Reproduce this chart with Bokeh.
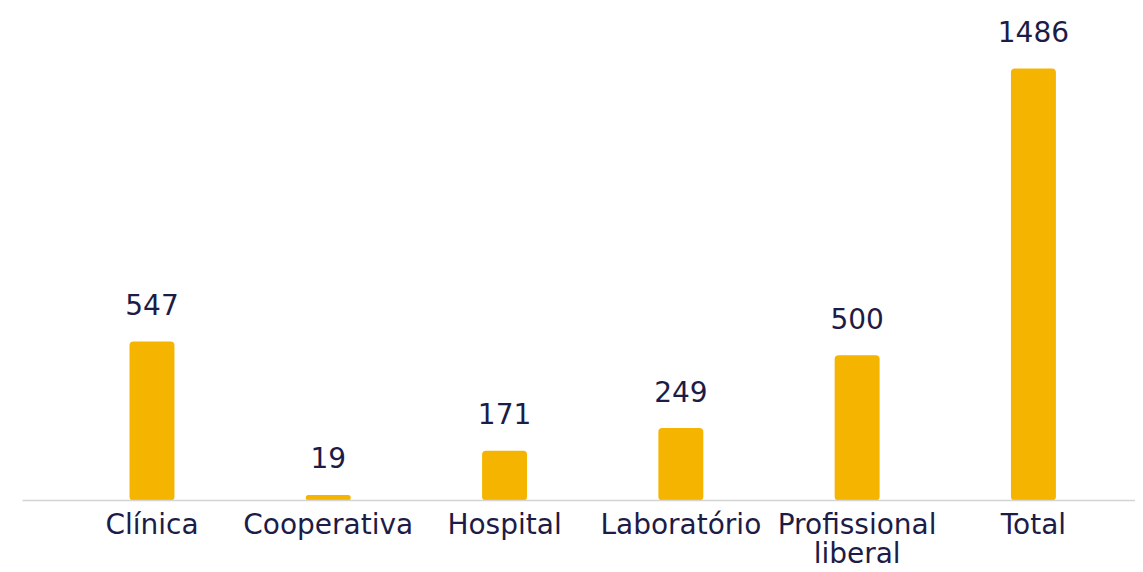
from bokeh.plotting import figure
from bokeh.models import ColumnDataSource, FixedTicker, Range1d
from bokeh.core.properties import value
from bokeh.embed import file_html
from bokeh.resources import INLINE

categories = ["Clínica", "Cooperativa", "Hospital", "Laboratório", "Profissional\nliberal", "Total"]
values = [547, 19, 171, 249, 500, 1486]
labels = [str(v) for v in values]

positions = list(range(len(categories)))
BAR = "#F5B400"
TXT = "#1d1c47"
FONT = "DejaVu Sans"

src = ColumnDataSource(dict(x=positions, top=values, label=labels))

p = figure(width=1135, height=572, output_backend="svg", toolbar_location=None,
           x_range=Range1d(-0.7345, 5.579), y_range=Range1d(0, 1720),
           min_border_left=22, min_border_right=0, min_border_top=0, min_border_bottom=72)
p.outline_line_color = None
p.xgrid.visible = False
p.ygrid.visible = False
p.yaxis.visible = False

p.vbar(x="x", top="top", width=0.255, bottom=0, source=src, fill_color=BAR,
       line_color=None, border_radius=4)

p.text(x="x", y="top", text="label", source=src, text_align="center",
       text_baseline="alphabetic", y_offset=-37, text_font=value(FONT),
       text_font_size="28px", text_color=TXT)

ax = p.xaxis[0]
ax.ticker = FixedTicker(ticks=positions)
ax.major_label_overrides = {i: c for i, c in enumerate(categories)}
ax.axis_line_color = "#d4d4d4"
ax.axis_line_width = 1.5
ax.major_tick_line_color = None
ax.minor_tick_line_color = None
ax.major_label_standoff = 1
ax.major_label_text_font = FONT
ax.major_label_text_font_size = "28px"
ax.major_label_text_color = TXT
ax.major_label_text_line_height = 0.88

open("out.html", "w").write(file_html(p, INLINE))
